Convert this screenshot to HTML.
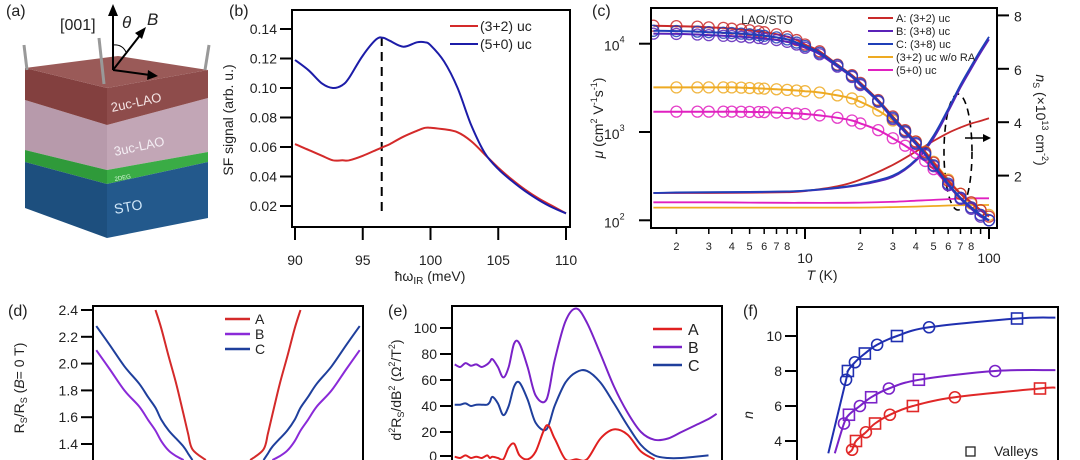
<!DOCTYPE html>
<html><head><meta charset="utf-8">
<style>
html,body{margin:0;padding:0;background:#fff;width:1080px;height:460px;overflow:hidden;}
svg{display:block;font-family:"Liberation Sans",sans-serif;overflow:hidden;}
.t{font-size:14px;fill:#222;}
.s{font-size:11px;fill:#222;}
.lab{font-size:16px;fill:#222;}
</style></head>
<body>
<svg id="fig" width="1080" height="460" viewBox="0 0 1080 460">
<g>
<text class="lab" x="6" y="16">(a)</text>
<polygon points="25,100 107,125 107,170 25,150" fill="#b79aab"/>
<polygon points="107,125 208,98 208,152 107,170" fill="#c2a6b6"/>
<polygon points="25,150 107,170 107,184 25,162" fill="#2f9a3a"/>
<polygon points="107,170 208,152 208,162 107,184" fill="#3aac45"/>
<polygon points="25,162 107,184 107,238 25,208" fill="#1d4f7e"/>
<polygon points="107,184 208,162 208,218 107,238" fill="#23598c"/>
<polygon points="25,68 107,88 107,125 25,100" fill="#83403f"/>
<polygon points="107,88 208,70 208,98 107,125" fill="#8e4c4b"/>
<polygon points="25,68 118,56 208,70 107,88" fill="#9a5a58"/>
<line x1="27" y1="70" x2="24" y2="45" stroke="#999" stroke-width="3"/>
<line x1="104" y1="84" x2="99" y2="38" stroke="#999" stroke-width="3"/>
<line x1="205" y1="70" x2="209" y2="45" stroke="#999" stroke-width="3"/>
<line x1="113" y1="70" x2="113" y2="14" stroke="#000" stroke-width="2"/>
<polygon points="108,16 113,4 118,16" fill="#000"/>
<line x1="113" y1="70" x2="141" y2="34" stroke="#000" stroke-width="2"/>
<polygon points="135,33 146,27 142,39" fill="#000"/>
<line x1="113" y1="70" x2="150" y2="75" stroke="#000" stroke-width="2"/>
<polygon points="148,70 158,76 147,80" fill="#000"/>
<path d="M113,45 Q122,44 126,52" fill="none" stroke="#000" stroke-width="1"/>
<text x="60" y="30" font-size="16" fill="#222">[001]</text>
<text x="122" y="28" font-size="17" font-style="italic" fill="#222">θ</text>
<text x="147" y="25" font-size="17" font-style="italic" fill="#222">B</text>
<text x="112" y="112" font-size="13" fill="#f4e4e4" transform="rotate(-12 112 112)">2uc-LAO</text>
<text x="115" y="156" font-size="13" fill="#f4eef4" transform="rotate(-12 115 156)">3uc-LAO</text>
<text x="115" y="181" font-size="6" fill="#d8f8d8" transform="rotate(-10 115 181)">2DEG</text>
<text x="115" y="214" font-size="14" fill="#cfe6f8" transform="rotate(-10 115 214)">STO</text>
</g>

<g id="pb">
<text class="lab" x="229" y="16">(b)</text>
<rect x="292" y="10" width="278" height="217" fill="none" stroke="#000" stroke-width="2"/>
<text class="t" x="430" y="281" text-anchor="middle">ħω<tspan font-size="10" dy="3">IR</tspan><tspan dy="-3"> (meV)</tspan></text>
<text class="t" transform="translate(233 120) rotate(-90)" text-anchor="middle">SF signal (arb. u.)</text>
</g>

<g id="pc">
<text class="lab" x="592" y="16">(c)</text>
<rect x="651" y="8" width="346" height="220" fill="none" stroke="#000" stroke-width="2"/>
<text x="767" y="24" font-size="12" fill="#222" text-anchor="middle">LAO/STO</text>
<text class="t" x="822" y="280" text-anchor="middle"><tspan font-style="italic">T</tspan> (K)</text>
<text class="t" transform="translate(603 118) rotate(-90)" text-anchor="middle"><tspan font-style="italic">μ</tspan> (cm<tspan font-size="9" dy="-6">2</tspan><tspan dy="6"> V</tspan><tspan font-size="9" dy="-6">-1</tspan><tspan dy="6">s</tspan><tspan font-size="9" dy="-6">-1</tspan><tspan dy="6">)</tspan></text>
<text class="t" transform="translate(1036 120) rotate(90)" text-anchor="middle"><tspan font-style="italic">n</tspan><tspan font-size="9" dy="3">S</tspan><tspan dy="-3"> (×10</tspan><tspan font-size="9" dy="-6">13</tspan><tspan dy="6"> cm</tspan><tspan font-size="9" dy="-6">-2</tspan><tspan dy="6">)</tspan></text>
<ellipse cx="958" cy="152" rx="14" ry="58" fill="none" stroke="#000" stroke-width="1.6" stroke-dasharray="7,5"/>
<line x1="965" y1="138" x2="985" y2="138" stroke="#000" stroke-width="1.5"/>
<polygon points="983,134 991,138 983,142" fill="#000"/>
</g>

<g id="pd">
<text class="lab" x="8" y="316">(d)</text>
<path d="M93,460 V306 H363 V460" fill="none" stroke="#000" stroke-width="2"/>
<text class="t" transform="translate(24 388) rotate(-90)" text-anchor="middle">R<tspan font-size="9" dy="3">S</tspan><tspan dy="-3">/R</tspan><tspan font-size="9" dy="3">S</tspan><tspan dy="-3"> (</tspan><tspan font-style="italic">B</tspan>= 0 T)</text>
</g>

<g id="pe">
<text class="lab" x="388" y="316">(e)</text>
<path d="M452,460 V306 H722 V460" fill="none" stroke="#000" stroke-width="2"/>
<text class="t" transform="translate(401 390) rotate(-90)" text-anchor="middle">d<tspan font-size="9" dy="-6">2</tspan><tspan dy="6">R</tspan><tspan font-size="9" dy="3">S</tspan><tspan dy="-3">/dB</tspan><tspan font-size="9" dy="-6">2</tspan><tspan dy="6"> (Ω</tspan><tspan font-size="9" dy="-6">2</tspan><tspan dy="6">/T</tspan><tspan font-size="9" dy="-6">2</tspan><tspan dy="6">)</tspan></text>
</g>

<g id="pf">
<text class="lab" x="743" y="316">(f)</text>
<path d="M797,460 V307 H1058 V460" fill="none" stroke="#000" stroke-width="2"/>
<text class="t" transform="translate(753 415) rotate(-90)" text-anchor="middle" font-style="italic">n</text>
<rect x="966" y="447" width="9" height="9" fill="none" stroke="#222" stroke-width="1.3"/>
<text class="t" x="994" y="456">Valleys</text>
</g>
</svg>
<script>
// ---------- data ----------
var bX = [90,91,92,92.8,93.5,94,95,96,96.5,97,98,99,99.6,100,101,102,103,104,105,106,107,108,109,110];
var bBlue = [0.119,0.112,0.103,0.100,0.102,0.107,0.122,0.133,0.134,0.132,0.128,0.131,0.131,0.129,0.118,0.100,0.075,0.056,0.045,0.037,0.030,0.024,0.019,0.015];
var bRed = [0.062,0.058,0.054,0.051,0.051,0.051,0.054,0.058,0.060,0.062,0.067,0.071,0.073,0.073,0.072,0.070,0.064,0.055,0.046,0.038,0.031,0.025,0.020,0.015];
var bXTicks = [90,95,100,105,110];
var bYTicks = [0.02,0.04,0.06,0.08,0.10,0.12,0.14];
var bDash = 96.4;

var cT = [1.5,2,2.6,3,3.6,4,4.5,5,5.6,6,7,8,9,10,12,15,18,20,25,30,35,40,45,50,60,70,80,90,100];
var cA = [16000,15800,15600,15300,15100,14800,14500,14200,13800,13500,12800,12000,11000,9800,8200,5800,4400,3600,2300,1500,1050,780,590,450,280,200,160,130,110];
var cC = [14000,13900,13700,13500,13300,13200,13000,12800,12500,12300,11800,11200,10300,9400,7900,5700,4300,3500,2250,1450,1020,750,570,420,260,180,140,115,100];
var cB = [13000,12900,12700,12500,12300,12200,12000,11800,11600,11400,11000,10500,9800,9000,7600,5500,4200,3400,2200,1400,990,730,550,410,250,175,135,110,100];
var cY = [3200,3200,3200,3200,3200,3200,3180,3150,3120,3100,3050,3000,2950,2900,2800,2600,2400,2200,1750,1350,1020,780,600,460,290,200,155,130,115];
var cM = [1700,1700,1700,1700,1700,1700,1695,1690,1685,1680,1660,1640,1620,1600,1540,1450,1350,1250,1050,850,700,580,470,380,250,180,140,115,100];
var nT = [1.5,2,3,5,8,10,15,20,30,40,50,60,70,80,90,100];
var nA = [1.35,1.35,1.35,1.36,1.38,1.42,1.6,1.85,2.4,2.9,3.3,3.6,3.8,3.95,4.05,4.15];
var nC = [1.35,1.37,1.38,1.39,1.41,1.44,1.55,1.68,2.0,2.6,3.5,4.5,5.4,6.1,6.7,7.2];
var nB = [1.35,1.36,1.37,1.38,1.40,1.43,1.53,1.65,1.95,2.55,3.4,4.4,5.3,6.0,6.6,7.1];
var nM = [1.0,1.0,1.0,0.99,0.98,0.98,0.98,0.99,1.02,1.06,1.09,1.12,1.14,1.15,1.15,1.15];
var nY = [0.8,0.8,0.8,0.8,0.8,0.8,0.8,0.8,0.82,0.84,0.86,0.88,0.89,0.9,0.9,0.9];
var cLegend = ["A: (3+2) uc","B: (3+8) uc","C: (3+8) uc","(3+2) uc w/o RA","(5+0) uc"];
var cMajor = [10,100];
var cMinor = [2,3,4,5,6,7,8,9,20,30,40,50,60,70,80,90];
var cMinorLabeled = [2,3,4,5,6,7,8,20,30,40,50,60,70,80];
var cYTicks = [100,1000,10000];
var cY2Ticks = [2,4,6,8];

// panel d: visible part only (curves leave the frame at the bottom)
var dB = [-8.9,-8,-7,-6,-5.4,-4.9,-4.5,-4,-3.5,-3,-2.7,-2.4,-1.5,0,1.5,2.4,2.7,3,3.5,4,4.5,4.9,5.4,6,7,8,8.9];
var dRed = [null,null,null,null,null,2.4,2.26,2.05,1.85,1.62,1.48,1.36,1.28,null,1.28,1.36,1.48,1.62,1.85,2.05,2.26,2.4,null,null,null,null,null];
var dBlue = [2.28,2.14,1.98,1.85,1.75,1.67,1.58,1.50,1.44,1.38,1.33,1.28,null,null,null,1.28,1.33,1.38,1.44,1.50,1.58,1.67,1.75,1.85,1.98,2.14,2.28];
var dPurple = [2.10,1.96,1.80,1.68,1.58,1.50,1.42,1.35,1.31,1.28,null,null,null,null,null,null,null,1.28,1.31,1.35,1.42,1.50,1.58,1.68,1.80,1.96,2.10];
var dYTicks = [1.4,1.6,1.8,2.0,2.2,2.4];

var eX = [1,3,5,7,9,11,13,14,15,17,19,21,23,25,28,31,35,38,42,46,50,55,60,65,70,75,80,85,90,95,98];
var eB = [72,70,73,71,72,70,72,74,76,70,62,70,88,88,70,48,45,75,105,115,104,80,55,35,20,14,15,20,25,30,34];
var eC = [41,41,42,40,41,41,41,43,47,42,33,40,55,58,45,27,22,40,58,66,67,58,42,25,10,2,0,0,1,2,null];
var eA = [1,0,2,0,1,0,2,0,1,0,-1,8,11,2,-1,5,25,15,-1,-1,-1,15,22,18,5,-1,null,null,null,null,null];
var eYTicks = [0,20,40,60,80,100];
var eLegend = ["A","B","C"];

var fBlueX = [12,18.8,19.5,22.2,26,30.7,38.3,50.6,84.3,99];
var fBlueY = [3.3,7.5,8,8.5,9,9.5,10,10.5,11,11.05];
var fPurpX = [14.5,18,19.9,24.1,28.4,35.2,46.7,75.9,99];
var fPurpY = [3.3,5,5.5,6,6.5,7,7.5,8,8.05];
var fRedX = [19.5,21.1,22.6,26.4,29.9,35.6,44.4,60.5,93.1,99];
var fRedY = [3.3,3.5,4,4.5,5,5.5,6,6.5,7,7.05];
var fBlueMarks = [1,2,3,4,5,6,7,8];
var fPurpMarks = [1,2,3,4,5,6,7];
var fRedMarks = [1,2,3,4,5,6,7,8];
var fYTicks = [4,6,8,10];

// ---------- helpers ----------
var NS = "http://www.w3.org/2000/svg";
function mk(tag, attrs, parent){var e=document.createElementNS(NS,tag);for(var k in attrs)e.setAttribute(k,attrs[k]);parent.appendChild(e);return e;}
function smooth(pts){
  if(pts.length<2)return "";
  var d="M"+pts[0][0].toFixed(1)+","+pts[0][1].toFixed(1);
  for(var i=0;i<pts.length-1;i++){
    var p0=pts[i-1]||pts[i],p1=pts[i],p2=pts[i+1],p3=pts[i+2]||p2;
    var c1=[p1[0]+(p2[0]-p0[0])/6,p1[1]+(p2[1]-p0[1])/6],c2=[p2[0]-(p3[0]-p1[0])/6,p2[1]-(p3[1]-p1[1])/6];
    d+="C"+c1[0].toFixed(1)+","+c1[1].toFixed(1)+" "+c2[0].toFixed(1)+","+c2[1].toFixed(1)+" "+p2[0].toFixed(1)+","+p2[1].toFixed(1);
  }
  return d;
}
function segs(xs,ys,sx,sy){var out=[],cur=[];for(var i=0;i<xs.length;i++){if(ys[i]==null){if(cur.length)out.push(cur);cur=[];}else cur.push([sx(xs[i]),sy(ys[i])]);}if(cur.length)out.push(cur);return out;}
function yTick(g,x,y,label,name){
  var l=mk("line",{x1:x-12,y1:y,x2:x,y2:y,stroke:"#000","stroke-width":2},g);
  
  
  var t=mk("text",{x:x-15,y:y+5,"text-anchor":"end","class":"t"},g);t.textContent=label;
  
  
}
var clipId=0;
function clip(x,y,w,h){var defs=document.getElementById("defs")||mk("defs",{id:"defs"},document.getElementById("fig"));clipId++;var c=mk("clipPath",{id:"cp"+clipId},defs);mk("rect",{x:x,y:y,width:w,height:h},c);return "url(#cp"+clipId+")";}

// ---------- panel b ----------
(function(){
  var g=document.getElementById("pb");
  var sx=function(v){return 295+(v-90)*13.55;}, sy=function(v){return 206-(v-0.02)*1475;};
  bXTicks.forEach(function(v){
    var l=mk("line",{x1:sx(v),y1:227,x2:sx(v),y2:240,stroke:"#000","stroke-width":2},g);
    
    
    var t=mk("text",{x:sx(v),y:265,"text-anchor":"middle","class":"t"},g);t.textContent=v;
    
    
  });
  bYTicks.forEach(function(v){yTick(g,292,sy(v),v.toFixed(2),'panel-b-y');});
  var dl=mk("line",{x1:sx(bDash),y1:37,x2:sx(bDash),y2:216,stroke:"#000","stroke-width":2,"stroke-dasharray":"9,6"},g);
  
  
  var pr=mk("path",{d:smooth(segs(bX,bRed,sx,sy)[0]),fill:"none",stroke:"#d42a2a","stroke-width":2},g);
  
  
  var pbl=mk("path",{d:smooth(segs(bX,bBlue,sx,sy)[0]),fill:"none",stroke:"#1c1ca8","stroke-width":2},g);
  
  
  [["(3+2) uc","#d42a2a",26],["(5+0) uc","#1c1ca8",44]].forEach(function(r){
    var l=mk("line",{x1:450,y1:r[2],x2:478,y2:r[2],stroke:r[1],"stroke-width":2},g);
    
    
    var t=mk("text",{x:480,y:r[2]+5,"class":"t"},g);t.textContent=r[0];
    
    
  });
})();

// ---------- panel c ----------
(function(){
  var g=document.getElementById("pc");
  var sx=function(v){return 805+Math.log10(v/10)*184;}, sy=function(v){return 132-Math.log10(v/1000)*88.3;}, sy2=function(v){return 229-v*26.7;};
  cMajor.forEach(function(v){
    var l=mk("line",{x1:sx(v),y1:228,x2:sx(v),y2:239,stroke:"#000","stroke-width":2},g);
    
    
    var t=mk("text",{x:sx(v),y:263,"text-anchor":"middle","class":"t"},g);t.textContent=v;
    
    
  });
  cMinor.forEach(function(v){
    var l=mk("line",{x1:sx(v),y1:228,x2:sx(v),y2:234,stroke:"#000","stroke-width":1.5},g);
    
    
  });
  cMinorLabeled.forEach(function(v){
    var t=mk("text",{x:sx(v),y:250,"text-anchor":"middle","class":"s"},g);t.textContent=String(v).charAt(0);
    
    
  });
  cYTicks.forEach(function(v){
    var y=sy(v);
    var l=mk("line",{x1:639,y1:y,x2:651,y2:y,stroke:"#000","stroke-width":2},g);
    
    
    var t=mk("text",{x:604,y:y+7,"class":"t"},g);
    
    
    t.innerHTML='10<tspan font-size="9" dy="-8">'+Math.round(Math.log10(v))+'</tspan>';
  });
  cY2Ticks.forEach(function(v){
    var y=sy2(v);
    var l=mk("line",{x1:997,y1:y,x2:1009,y2:y,stroke:"#000","stroke-width":2},g);
    
    
    var t=mk("text",{x:1014,y:y+6,"class":"t"},g);t.textContent=v;
    
    
  });
  var cp=clip(652,9,344,218);
  var pg=mk("g",{"clip-path":cp},g);
  var ns=[[nY,"#eeaa22"],[nM,"#e020c0"],[nA,"#c92a2a"],[nB,"#5a22b8"],[nC,"#1f3fb8"]];
  ns.forEach(function(s){
    var p=mk("path",{d:smooth(segs(nT,s[0],sx,sy2)[0]),fill:"none",stroke:s[1],"stroke-width":1.8},pg);
    
    
  });
  var mus=[[cY,"#eeaa22"],[cM,"#e020c0"],[cA,"#c92a2a"],[cB,"#5a22b8"],[cC,"#1f3fb8"]];
  mus.forEach(function(s){
    var p=mk("path",{d:smooth(segs(cT,s[0],sx,sy)[0]),fill:"none",stroke:s[1],"stroke-width":2},pg);
    
    
    cT.forEach(function(t,i){
      if(t<2 && s[0]!==cA && s[0]!==cC && s[0]!==cB)return;
      var c=mk("circle",{cx:sx(t),cy:sy(s[0][i]),r:5.5,fill:"none",stroke:s[1],"stroke-width":1.3,opacity:0.85},pg);
      
      
    });
  });
  var cols=["#c92a2a","#5a22b8","#1f3fb8","#eeaa22","#e020c0"];
  cLegend.forEach(function(lab,i){
    var y=18+i*13;
    var l=mk("line",{x1:868,y1:y,x2:893,y2:y,stroke:cols[i],"stroke-width":2},g);
    
    
    var t=mk("text",{x:896,y:y+4,"font-size":"11",fill:"#222"},g);t.textContent=lab;
    
    
  });
})();

// ---------- panel d ----------
(function(){
  var g=document.getElementById("pd");
  var sx=function(v){return 228+v*14.8;}, sy=function(v){return 444-(v-1.4)*134;};
  dYTicks.forEach(function(v){yTick(g,93,sy(v),v.toFixed(1),'panel-d-y');});
  var cp=clip(94,307,268,153);
  var pg=mk("g",{"clip-path":cp},g);
  [[dPurple,"#8a2ad8"],[dBlue,"#1f3f9c"],[dRed,"#d42a2a"]].forEach(function(s){
    segs(dB,s[0],sx,sy).forEach(function(pts){
      var p=mk("path",{d:smooth(pts),fill:"none",stroke:s[1],"stroke-width":2},pg);
      
      
    });
  });
  [["A","#d42a2a",319],["B","#8a2ad8",334],["C","#1f3f9c",349]].forEach(function(r){
    var l=mk("line",{x1:225,y1:r[2],x2:250,y2:r[2],stroke:r[1],"stroke-width":2.5},g);
    
    
    var t=mk("text",{x:255,y:r[2]+5,"class":"t"},g);t.textContent=r[0];
    
    
  });
})();

// ---------- panel e ----------
(function(){
  var g=document.getElementById("pe");
  var sx=function(v){return 452+v*2.7;}, sy=function(v){return 458-v*1.3;};
  eYTicks.forEach(function(v){yTick(g,452,Math.min(sy(v),456),v,'panel-e-y');});
  var cp=clip(453,307,268,153);
  var pg=mk("g",{"clip-path":cp},g);
  [[eB,"#7a22c8"],[eC,"#1f3f9c"],[eA,"#e02020"]].forEach(function(s){
    segs(eX,s[0],sx,sy).forEach(function(pts){
      var p=mk("path",{d:smooth(pts),fill:"none",stroke:s[1],"stroke-width":2},pg);
      
      
    });
  });
  var cols=["#e02020","#7a22c8","#1f3f9c"];
  eLegend.forEach(function(lab,i){
    var y=329+i*18;
    var l=mk("line",{x1:653,y1:y,x2:682,y2:y,stroke:cols[i],"stroke-width":2.5},g);
    
    
    var t=mk("text",{x:688,y:y+6,"font-size":"16",fill:"#222"},g);t.textContent=lab;
    
    
  });
})();

// ---------- panel f ----------
(function(){
  var g=document.getElementById("pf");
  var sx=function(v){return 797+v*2.61;}, sy=function(v){return 336-(v-10)*17.5;};
  fYTicks.forEach(function(v){yTick(g,797,sy(v),v,'panel-f-y');});
  var cp=clip(798,308,259,152);
  var pg=mk("g",{"clip-path":cp},g);
  [[fBlueX,fBlueY,"#1f2fb0",fBlueMarks],[fPurpX,fPurpY,"#7a22c8",fPurpMarks],[fRedX,fRedY,"#e02828",fRedMarks]].forEach(function(s){
    var xs=s[0],ys=s[1];
    var pts=xs.map(function(x,i){return [sx(x),sy(ys[i])];});
    var p=mk("path",{d:smooth(pts),fill:"none",stroke:s[2],"stroke-width":2},pg);
    
    
    s[3].forEach(function(i,k){
      var m;
      if(k%2===0){m=mk("circle",{cx:sx(xs[i]),cy:sy(ys[i]),r:5.5,fill:"none",stroke:s[2],"stroke-width":1.6},pg);}
      else{m=mk("rect",{x:sx(xs[i])-5.5,y:sy(ys[i])-5.5,width:11,height:11,fill:"none",stroke:s[2],"stroke-width":1.6},pg);}
      
      
    });
  });
})();
</script>
</body></html>
